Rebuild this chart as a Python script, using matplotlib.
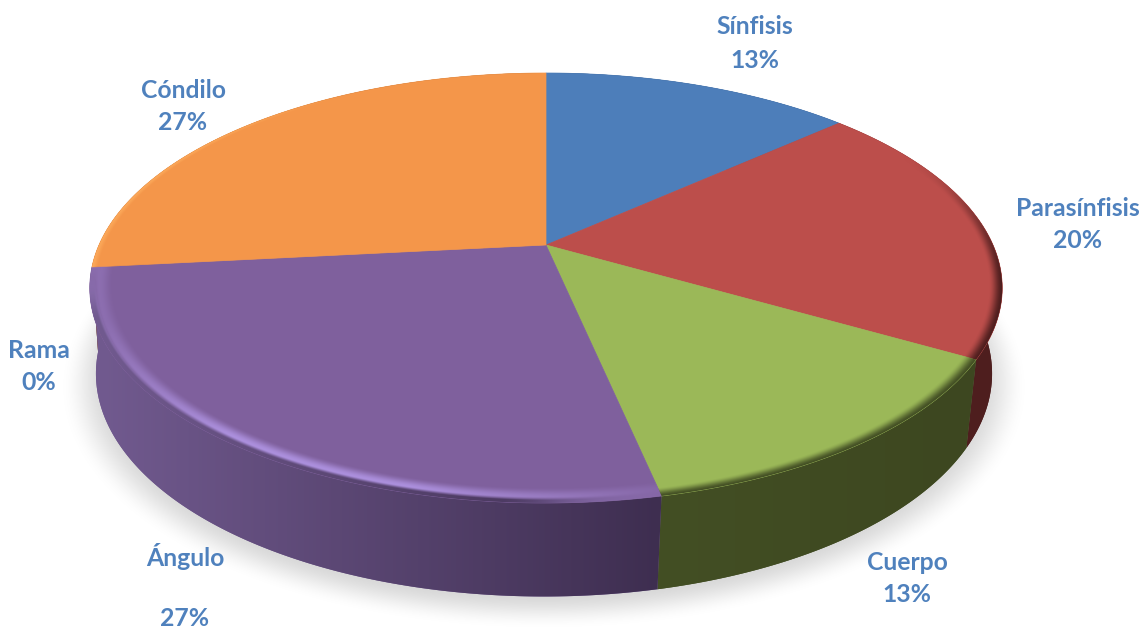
import numpy as np
import matplotlib
matplotlib.use('Agg')
import matplotlib.pyplot as plt
from matplotlib.colors import to_rgb
from matplotlib.patches import Polygon

categories = ['Sínfisis', 'Parasínfisis', 'Cuerpo', 'Rama', 'Ángulo', 'Cóndilo']
counts = [2, 3, 2, 0, 4, 4]

top_colors = ['#4D7EBA', '#BC4E4B', '#9BB858', '#7F609D', '#7F609D', '#F4964A']
side_left = ['#2E4A6E', '#4E1E1E', '#434F24', '#715A8F', '#715A8F', '#94592A']
side_right = ['#2E4A6E', '#4E1E1E', '#3D4720', '#3E2E50', '#3E2E50', '#94592A']
label_pos = [(755, 27), (1078, 209), (907, 562), (39, 350), (185, 556), (183, 90)]
value_gap = [33, 32, 32, 33, 63, 33]

W, H = 1144, 630
PERSP = 0.2
# (x of the centre, half width, half height, y of the centre) for the top and bottom discs
TOP = (546, 447, 206.4, 245)
BOTTOM = (544, 439, 214, 329)


def project(t, disc):
    u, v = np.sin(t), np.cos(t)
    s = 1 + PERSP * v
    return disc[0] + disc[1] * u / s, disc[3] - disc[2] * v / s


def unproject(xx, yy, disc):
    # pixel grid back to the disc plane, gives radius and (u, v)
    a = (xx - disc[0]) / disc[1]
    b = -(yy - disc[3]) / disc[2]
    d = 1 - PERSP * b
    u, v = a / d, b / d
    return np.hypot(u, v), u, v


def ramp(x, lo, hi):
    s = np.clip((x - lo) / (hi - lo), 0, 1)
    return s * s * (3 - 2 * s)


def wall_gradient(i, x):
    c0, c1 = np.array(to_rgb(side_left[i])), np.array(to_rgb(side_right[i]))
    k = np.clip((x - 100) / 560, 0, 1)
    if i == 2:
        k = np.clip((x - 660) / 300, 0, 1)
    return c0 * (1 - k[..., None]) + c1 * k[..., None]


total = sum(counts)
edges = np.cumsum([0] + counts) / total * 2 * np.pi

fig = plt.figure(figsize=(W / 100, H / 100), dpi=100)
ax = fig.add_axes([0, 0, 1, 1])
xx, yy = np.meshgrid(np.arange(W) + 0.5, np.arange(H) + 0.5)
extent = (0, W, H, 0)

# soft shadow under the disc
r, u, v = unproject(xx, yy - 7, BOTTOM)
shadow = np.zeros((H, W, 4))
shadow[..., :3] = 0.72
shadow[..., 3] = 0.55 * (1 - ramp(r, 0.97, 1.075))
ax.imshow(shadow, extent=extent, aspect='auto', zorder=1, interpolation='bilinear')

# side walls, back to front so the nearer slices overlap
order = [1, 5, 0, 2, 4]
for i in order:
    t = np.linspace(edges[i], edges[i + 1], 200)
    xt, yt = project(t, TOP)
    xb, yb = project(t, BOTTOM)
    wall = Polygon(np.r_[np.c_[xt, yt], np.c_[xb, yb][::-1]], closed=True,
                   fc=side_left[i], ec='none', zorder=2)
    ax.add_patch(wall)
    im = ax.imshow(wall_gradient(i, xx), extent=extent, aspect='auto', zorder=2.1,
                   interpolation='bilinear')
    im.set_clip_path(wall)

# top face with the bevelled rim
r, u, v = unproject(xx, yy, TOP)
for i, n in enumerate(counts):
    if n == 0:
        continue
    t = np.linspace(edges[i], edges[i + 1], 200)
    xt, yt = project(t, TOP)
    outline = np.r_[[(TOP[0], TOP[3])], np.c_[xt, yt]]
    face = Polygon(outline, closed=True, fc=top_colors[i], ec=top_colors[i], lw=0.5, zorder=3)
    ax.add_patch(face)

    rim = np.zeros((H, W, 4))
    if categories[i] == 'Ángulo':
        # light line along the edge, the wall takes over just outside it
        strength = 0.95 * np.minimum(np.clip((0.3 - u) / 0.55, 0.12, 1),
                                     np.clip((1.05 + u) / 0.45, 0.3, 1))
        glow = strength * ramp(r, 0.95, 0.98) * ramp(-v, -0.3, 0.0)
        onto_wall = ramp(r, 0.98, 0.992) * ramp(-v, 0.05, 0.35) * ramp(-u, -0.25, 0.1)
        rim[..., :3] = (np.array(to_rgb('#AE92E0')) * (1 - onto_wall[..., None])
                        + wall_gradient(i, xx) * onto_wall[..., None])
        rim[..., 3] = np.maximum(glow, onto_wall)
    elif categories[i] == 'Cóndilo':
        rim[..., :3] = to_rgb('#FFB060')
        rim[..., 3] = 0.7 * ramp(r, 0.985, 1.0) * ramp(-u, 0.45, 0.95)
    else:
        front = ramp(-v / np.maximum(r, 1e-6), -0.5, 0.2)
        rim[..., :3] = to_rgb(side_left[i])
        rim[..., 3] = front * ramp(r, 0.972, 1.0)
    im = ax.imshow(rim, extent=extent, aspect='auto', zorder=3.1, interpolation='bilinear')
    im.set_clip_path(face)

for name, n, (x, y), gap in zip(categories, counts, label_pos, value_gap):
    pct = round(100 * n / total)
    ax.text(x, y, name, color='#4F81BD', fontsize=17.8, fontweight='bold', family='Lato',
            ha='center', va='center', zorder=5)
    ax.text(x, y + gap, f'{pct}%', color='#4F81BD', fontsize=17.8, fontweight='bold', family='Lato',
            ha='center', va='center', zorder=5)

ax.set_xlim(0, W)
ax.set_ylim(H, 0)
ax.axis('off')
fig.savefig('out.png', dpi=100, facecolor='white')
